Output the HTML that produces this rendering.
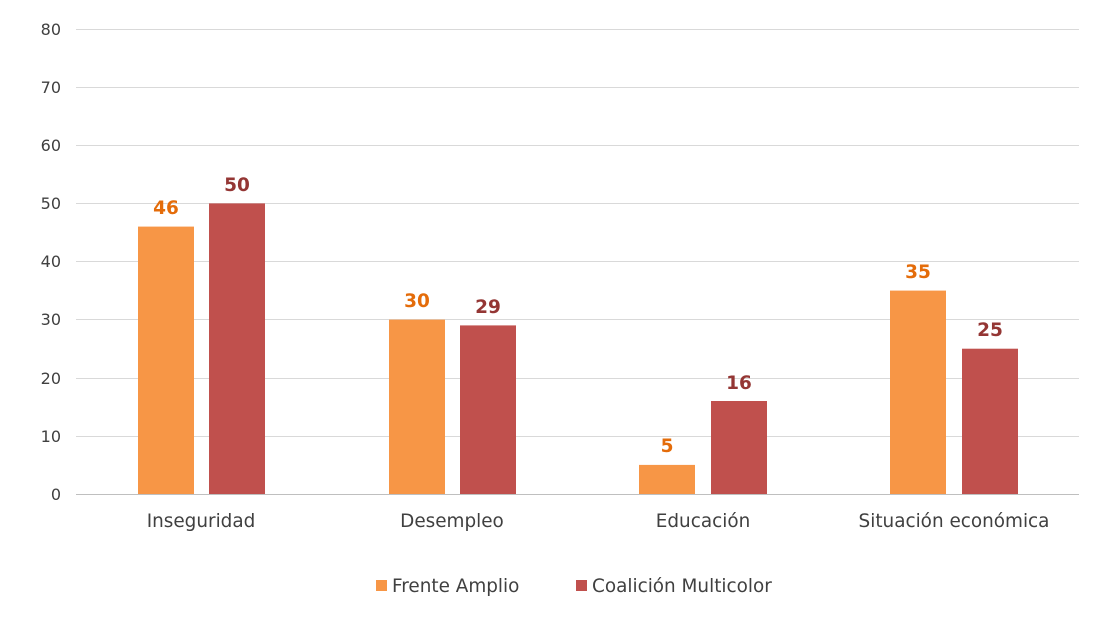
<!DOCTYPE html>
<html><head><meta charset="utf-8"><style>body{margin:0;background:#fff}</style></head><body>
<svg width="1110" height="622" xmlns="http://www.w3.org/2000/svg" font-family="'DejaVu Sans','Liberation Sans',sans-serif">
<g stroke="#d9d9d9" stroke-width="1">
<line x1="76" x2="1079" y1="29.5" y2="29.5"/><line x1="76" x2="1079" y1="87.5" y2="87.5"/>
<line x1="76" x2="1079" y1="145.5" y2="145.5"/><line x1="76" x2="1079" y1="203.5" y2="203.5"/>
<line x1="76" x2="1079" y1="261.5" y2="261.5"/><line x1="76" x2="1079" y1="319.5" y2="319.5"/>
<line x1="76" x2="1079" y1="378.5" y2="378.5"/><line x1="76" x2="1079" y1="436.5" y2="436.5"/>
</g>
<g font-size="16" fill="#404040" text-anchor="end">
<text x="61" y="35">80</text><text x="61" y="93">70</text><text x="61" y="151">60</text><text x="61" y="209">50</text>
<text x="61" y="267">40</text><text x="61" y="325">30</text><text x="61" y="384">20</text><text x="61" y="442">10</text><text x="61" y="500">0</text>
</g>
<g fill="#F79646">
<rect x="138" y="226.6" width="56" height="267.4"/><rect x="389" y="319.6" width="56" height="174.4"/>
<rect x="639" y="464.9" width="56" height="29.1"/><rect x="890" y="290.6" width="56" height="203.4"/>
</g>
<g fill="#C0504D">
<rect x="209" y="203.4" width="56" height="290.6"/><rect x="460" y="325.4" width="56" height="168.6"/>
<rect x="711" y="401" width="56" height="93"/><rect x="962" y="348.7" width="56" height="145.3"/>
</g>
<line x1="76" x2="1079" y1="494.5" y2="494.5" stroke="#bfbfbf"/>
<g font-size="18.5" font-weight="bold" text-anchor="middle">
<text x="166" y="214" fill="#E46C0A">46</text><text x="237" y="191" fill="#943634">50</text>
<text x="417" y="307" fill="#E46C0A">30</text><text x="488" y="313" fill="#943634">29</text>
<text x="667" y="452" fill="#E46C0A">5</text><text x="739" y="389" fill="#943634">16</text>
<text x="918" y="278" fill="#E46C0A">35</text><text x="990" y="336" fill="#943634">25</text>
</g>
<g font-size="18.4" fill="#404040" text-anchor="middle">
<text x="201" y="527">Inseguridad</text><text x="452" y="527">Desempleo</text>
<text x="703" y="527">Educación</text><text x="954" y="527">Situación económica</text>
</g>
<rect x="376" y="580" width="11" height="11" fill="#F79646"/>
<text x="392" y="592" font-size="18.4" fill="#404040">Frente Amplio</text>
<rect x="576" y="580" width="11" height="11" fill="#C0504D"/>
<text x="592" y="592" font-size="18.4" fill="#404040">Coalición Multicolor</text>
</svg>
</body></html>
